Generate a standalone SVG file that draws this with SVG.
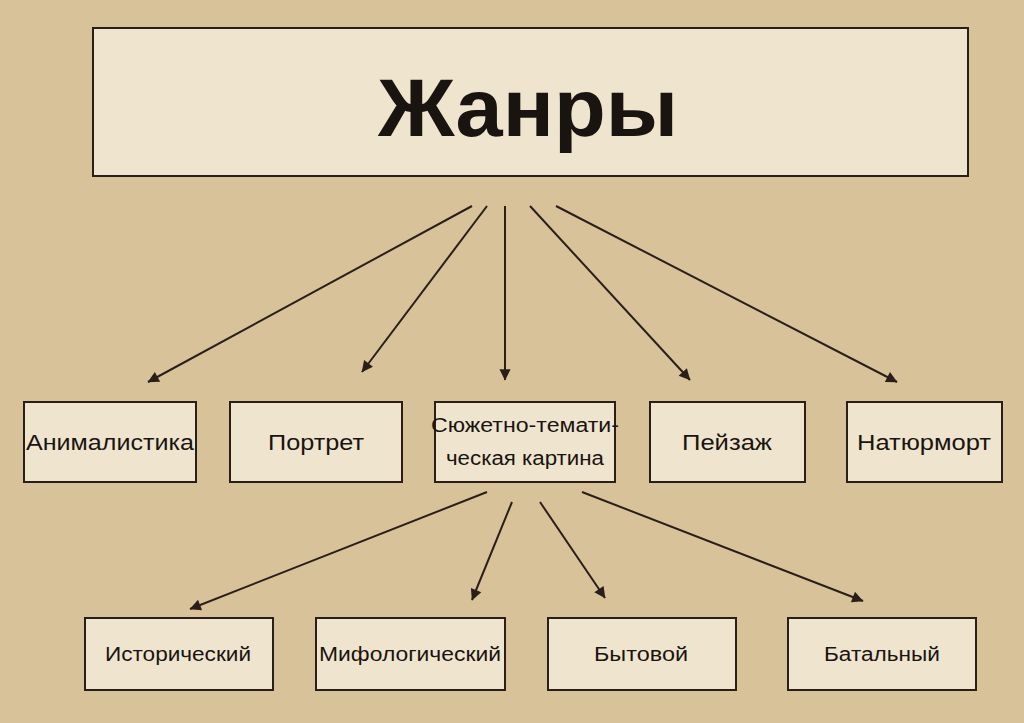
<svg xmlns="http://www.w3.org/2000/svg" width="1024" height="723" viewBox="0 0 1024 723">
<style>
.b{fill:#efe5cf;stroke:#2a1f18;stroke-width:2}
.t{font-family:"Liberation Sans",Arial,sans-serif;fill:#1a1410;text-anchor:middle}
.c line{stroke:#2a1f18;stroke-width:2;marker-end:url(#a)}
</style>
<defs><marker id="a" viewBox="0 0 10 10" refX="9" refY="5" markerWidth="7" markerHeight="7" orient="auto" markerUnits="userSpaceOnUse" style="overflow:visible"><path d="M0,0 L10,5 L0,10 z" fill="#2a1f18" transform="scale(1.6) translate(-4,-1.9)"/></marker></defs>
<rect width="1024" height="723" fill="#d7c299"/>
<g id="n0"><rect class="b" x="93" y="28" width="875" height="148"/><text class="t" x="528" y="136" font-size="82" font-weight="bold" textLength="300" lengthAdjust="spacingAndGlyphs">Жанры</text></g>
<g id="n1"><rect class="b" x="24" y="402" width="172" height="80"/><text class="t" x="110" y="450" font-size="22" textLength="168" lengthAdjust="spacingAndGlyphs">Анималистика</text></g>
<g id="n2"><rect class="b" x="230" y="402" width="172" height="80"/><text class="t" x="316" y="450" font-size="22" textLength="96" lengthAdjust="spacingAndGlyphs">Портрет</text></g>
<g id="n3"><rect class="b" x="435" y="402" width="180" height="80"/><text class="t" x="525" y="432" font-size="20" textLength="188" lengthAdjust="spacingAndGlyphs">Сюжетно-темати-</text><text class="t" x="525" y="465" font-size="20" textLength="158" lengthAdjust="spacingAndGlyphs">ческая картина</text></g>
<g id="n4"><rect class="b" x="650" y="402" width="155" height="80"/><text class="t" x="727" y="450" font-size="22" textLength="90" lengthAdjust="spacingAndGlyphs">Пейзаж</text></g>
<g id="n5"><rect class="b" x="847" y="402" width="155" height="80"/><text class="t" x="924" y="450" font-size="22" textLength="134" lengthAdjust="spacingAndGlyphs">Натюрморт</text></g>
<g id="n6"><rect class="b" x="85" y="618" width="188" height="72"/><text class="t" x="178" y="661" font-size="20" textLength="146" lengthAdjust="spacingAndGlyphs">Исторический</text></g>
<g id="n7"><rect class="b" x="316" y="618" width="189" height="72"/><text class="t" x="410" y="661" font-size="20" textLength="182" lengthAdjust="spacingAndGlyphs">Мифологический</text></g>
<g id="n8"><rect class="b" x="548" y="618" width="188" height="72"/><text class="t" x="641" y="661" font-size="20" textLength="94" lengthAdjust="spacingAndGlyphs">Бытовой</text></g>
<g id="n9"><rect class="b" x="788" y="618" width="188" height="72"/><text class="t" x="882" y="661" font-size="20" textLength="116" lengthAdjust="spacingAndGlyphs">Батальный</text></g>
<g class="c" id="connectors">
<line x1="472" y1="206" x2="148" y2="382"/>
<line x1="487" y1="206" x2="362" y2="372"/>
<line x1="505" y1="206" x2="505" y2="380"/>
<line x1="530" y1="206" x2="690" y2="380"/>
<line x1="556" y1="206" x2="897" y2="382"/>
<line x1="487" y1="492" x2="190" y2="609"/>
<line x1="512" y1="502" x2="472" y2="600"/>
<line x1="540" y1="502" x2="605" y2="598"/>
<line x1="582" y1="492" x2="863" y2="601"/>
</g>
</svg>
